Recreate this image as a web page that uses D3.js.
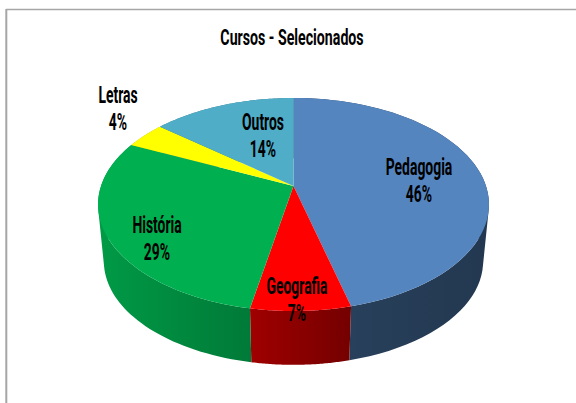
<!DOCTYPE html>
<html>
<head>
<meta charset="utf-8">
<script src="https://cdn.jsdelivr.net/npm/d3@7"></script>
<style>
  html, body { margin: 0; padding: 0; background: #fff; overflow: hidden; }
  text { font-family: Roboto, "Liberation Sans", sans-serif; font-weight: 700; fill: #000; }
</style>
</head>
<body>
<svg id="chart"></svg>
<script>
var categories = ['Pedagogia', 'Geografia', 'História', 'Letras', 'Outros'];
var percents = [46, 7, 29, 4, 14];
var title = 'Cursos - Selecionados';

var topColors = ['#5585bf', '#ff0000', '#00b050', '#ffff00', '#4fadc7'];
// side wall colors, left and right end of the gradient
var sideColors = [['#2a4360', '#233850'], ['#a00000', '#740000'], ['#009a46', '#007a38'], ['#b3b300', '#b3b300'], ['#38798b', '#38798b']];

// first baseline and center of each label, placed by hand like in the original
var labelSpots = [[419, 175], [297, 294], [157, 233], [118, 103], [263, 130]];

var width = 576;
var height = 403;

// the pie is tilted in perspective: apex and rim do not share a center
var centerX = 293.5;
var centerY = 186;
var radius = 192.5;
var yGain = 71;
var persp = -0.1737;
var depth = 57;
var bottomShrink = 0.97;
var rimMiddle = 204.5;

var svg = d3.select('#chart')
  .attr('width', width)
  .attr('height', height);

function project(angle, r) {
  var u = r * Math.sin(angle);
  var v = -r * Math.cos(angle);
  var w = 1 + persp * v;
  return [centerX + radius * u / w, (centerY + yGain * v) / w];
}

function projectBottom(angle) {
  var p = project(angle, 1);
  return [centerX + (p[0] - centerX) * bottomShrink,
          rimMiddle + depth + (p[1] - rimMiddle) * bottomShrink];
}

function arcPoints(a0, a1, fn) {
  return d3.range(0, 61).map(function(i) {
    return fn(a0 + (a1 - a0) * i / 60);
  });
}

var slices = d3.pie().sort(null)(percents);
var line = d3.line();

// frame of the chart area
svg.append('line')
  .attr('x1', 6).attr('x2', width)
  .attr('y1', 9.5).attr('y2', 9.5)
  .attr('stroke', '#a6a6a6')
  .attr('stroke-width', 1.5);
svg.append('line')
  .attr('x1', 6.3).attr('x2', 6.3)
  .attr('y1', 9).attr('y2', height)
  .attr('stroke', '#a6a6a6')
  .attr('stroke-width', 2);

var defs = svg.append('defs');
slices.forEach(function(d, i) {
  var xs = arcPoints(d.startAngle, d.endAngle, function(a) { return project(a, 1)[0]; });
  var grad = defs.append('linearGradient')
    .attr('id', 'side' + i)
    .attr('gradientUnits', 'userSpaceOnUse')
    .attr('x1', d3.min(xs)).attr('x2', d3.max(xs))
    .attr('y1', 0).attr('y2', 0);
  grad.append('stop').attr('offset', 0).attr('stop-color', sideColors[i][0]);
  grad.append('stop').attr('offset', 1).attr('stop-color', sideColors[i][1]);
});

// wall built from small quads, all wound the same way, so the silhouette
// past the left and right extremes of the rim gets filled too
function wallPath(d) {
  var upper = arcPoints(d.startAngle, d.endAngle, function(a) { return project(a, 1); });
  var lower = arcPoints(d.startAngle, d.endAngle, projectBottom);
  var path = '';
  for (var i = 0; i < upper.length - 1; i++) {
    var quad = [upper[i], upper[i + 1], lower[i + 1], lower[i]];
    if (d3.polygonArea(quad) < 0) quad.reverse();
    path += line(quad) + 'Z';
  }
  return path;
}

// side wall first, the top face covers what is hidden
svg.append('g').selectAll('path')
  .data(slices)
  .enter().append('path')
    .attr('d', wallPath)
    .attr('fill', function(d, i) { return 'url(#side' + i + ')'; });

svg.append('g').selectAll('path')
  .data(slices)
  .enter().append('path')
    .attr('d', function(d) {
      var rim = arcPoints(d.startAngle, d.endAngle, function(a) { return project(a, 1); });
      return line([project(0, 0)].concat(rim)) + 'Z';
    })
    .attr('fill', function(d, i) { return topColors[i]; });

function addText(x, y, str, size, squeeze) {
  svg.append('text')
    .attr('transform', 'translate(' + x + ',' + y + ') scale(' + squeeze + ',1)')
    .attr('text-anchor', 'middle')
    .attr('font-size', size)
    .text(str);
}

addText(292, 45, title, 22.5, 0.63);

categories.forEach(function(name, i) {
  addText(labelSpots[i][0], labelSpots[i][1], name, 24, 0.58);
  addText(labelSpots[i][0], labelSpots[i][1] + 27, percents[i] + '%', 24, 0.58);
});
</script>
</body>
</html>
